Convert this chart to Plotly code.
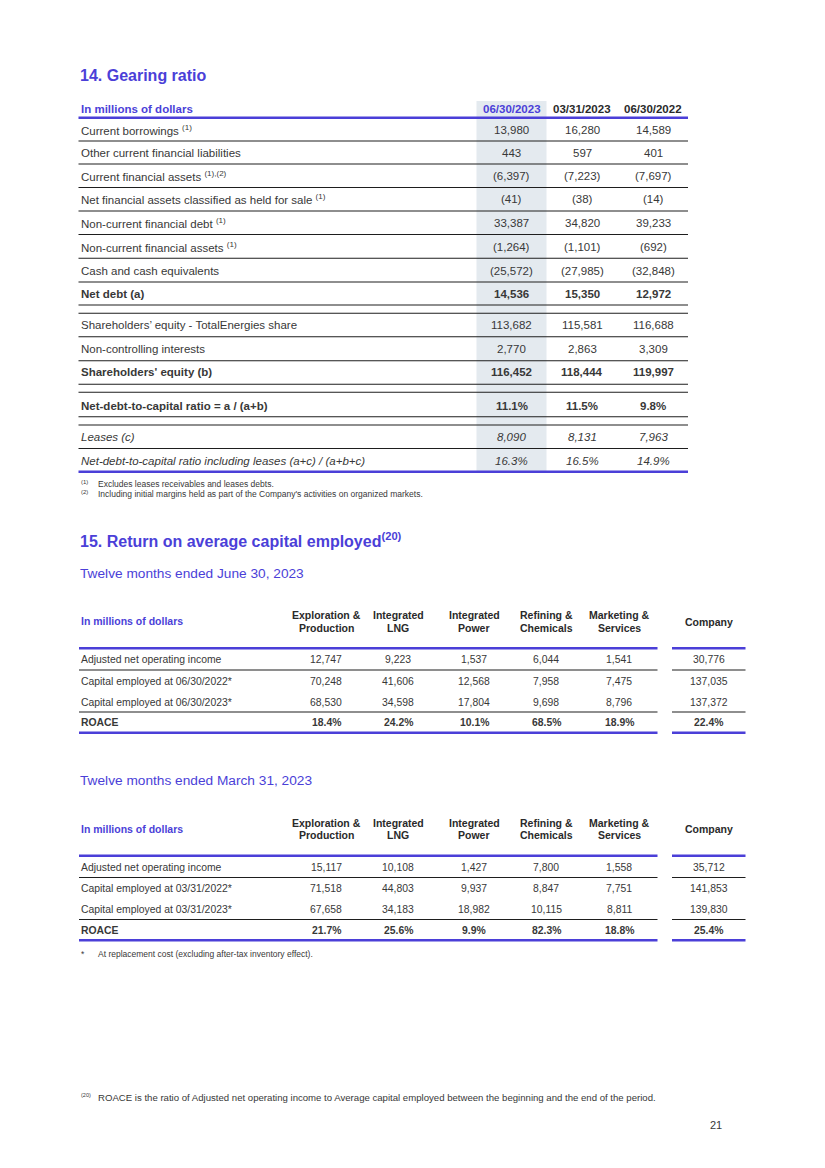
import plotly.graph_objects as go

PURPLE = "#4B3FD8"
TEXT = "#383838"
LINE = "#1E1E1E"
SHADE = "#E4EAEF"
FONT = "Liberation Sans, Arial, sans-serif"

# Données - 14. Gearing ratio
gearing_periods = ["06/30/2023", "03/31/2023", "06/30/2022"]
gearing_labels = [
    "Current borrowings <sup>(1)</sup>",
    "Other current financial liabilities",
    "Current financial assets <sup>(1),(2)</sup>",
    "Net financial assets classified as held for sale <sup>(1)</sup>",
    "Non-current financial debt <sup>(1)</sup>",
    "Non-current financial assets <sup>(1)</sup>",
    "Cash and cash equivalents",
    "Net debt (a)",
    "Shareholders\u2019 equity - TotalEnergies share",
    "Non-controlling interests",
    "Shareholders' equity (b)",
    "Net-debt-to-capital ratio = a / (a+b)",
    "Leases (c)",
    "Net-debt-to-capital ratio including leases (a+c) / (a+b+c)",
]
gearing_jun23 = [13980, 443, -6397, -41, 33387, -1264, -25572, 14536, 113682, 2770, 116452, 11.1, 8090, 16.3]
gearing_mar23 = [16280, 597, -7223, -38, 34820, -1101, -27985, 15350, 115581, 2863, 118444, 11.5, 8131, 16.5]
gearing_jun22 = [14589, 401, -7697, -14, 39233, -692, -32848, 12972, 116688, 3309, 119997, 9.8, 7963, 14.9]
gearing_notes = [
    ("(1)", "Excludes leases receivables and leases debts."),
    ("(2)", "Including initial margins held as part of the Company's activities on organized markets."),
]

# Données - 15. ROACE
segments = ["Exploration &\nProduction", "Integrated\nLNG", "Integrated\nPower",
            "Refining &\nChemicals", "Marketing &\nServices", "Company"]
roace_rows_jun = ["Adjusted net operating income", "Capital employed at 06/30/2022*",
                  "Capital employed at 06/30/2023*", "ROACE"]
income_jun23 = [12747, 9223, 1537, 6044, 1541, 30776]
capital_jun22 = [70248, 41606, 12568, 7958, 7475, 137035]
capital_jun23 = [68530, 34598, 17804, 9698, 8796, 137372]
roace_jun23 = [18.4, 24.2, 10.1, 68.5, 18.9, 22.4]

roace_rows_mar = ["Adjusted net operating income", "Capital employed at 03/31/2022*",
                  "Capital employed at 03/31/2023*", "ROACE"]
income_mar23 = [15117, 10108, 1427, 7800, 1558, 35712]
capital_mar22 = [71518, 44803, 9937, 8847, 7751, 141853]
capital_mar23 = [67658, 34183, 18982, 10115, 8811, 139830]
roace_mar23 = [21.7, 25.6, 9.9, 82.3, 18.8, 25.4]

# Mise en page (coordonnées = pixels de la page)
G_ROW_Y = [129.5, 152.5, 175.8, 199.2, 223, 246.7, 270.5, 293.5, 325.2, 349, 372.3, 406, 437, 460.7]
G_LINES = [141, 164, 187.5, 211, 234.5, 258.3, 282, 305, 313.3, 336.8, 360.7, 384.3, 392.3, 416.7, 425, 448.5]
G_COL_X = [511.5, 582, 653]
G_BOLD = {7, 10, 11}
G_ITALIC = {12, 13}
G_PCT = {11, 13}
R_COL_X = [326, 398, 474, 546, 619, 708.5]
BODY_MARGIN = 8  # marge par défaut du <body> HTML

fig = go.Figure()
annotations = []
shapes = []


def fmt(v, pct=False):
    if pct:
        return f"{v:.1f}%"
    s = f"{abs(v):,}"
    return f"({s})" if v < 0 else s


def text(x, y, s, size=11.5, color=TEXT, anchor="left", bold=False, italic=False):
    if bold:
        s = f"<b>{s}</b>"
    if italic:
        s = f"<i>{s}</i>"
    annotations.append(dict(
        x=x, y=y, xref="x", yref="y", text=s, showarrow=False,
        xanchor=anchor, yanchor="middle", borderpad=0,
        font=dict(family=FONT, size=size, color=color),
    ))


def hline(y, x0, x1, color=LINE, width=1.1):
    shapes.append(dict(type="line", xref="x", yref="y", x0=x0, x1=x1, y0=y, y1=y,
                       line=dict(color=color, width=width)))


# 14. Gearing ratio
text(79, 75, "14. Gearing ratio", size=16, color=PURPLE, bold=True)
shapes.append(dict(type="rect", xref="x", yref="y", x0=476.5, x1=546.5, y0=101, y1=471.5,
                   fillcolor=SHADE, line=dict(width=0), layer="below"))
text(80, 109, "In millions of dollars", color=PURPLE, bold=True)
for j, p in enumerate(gearing_periods):
    text(G_COL_X[j], 109, p, color=PURPLE if j == 0 else "#2A2A2A", anchor="center", bold=True)
hline(117.8, 78.5, 688, color=PURPLE, width=2.6)

for i, lab in enumerate(gearing_labels):
    b, it, pct = i in G_BOLD, i in G_ITALIC, i in G_PCT
    text(80, G_ROW_Y[i], lab, bold=b, italic=it)
    for j, serie in enumerate([gearing_jun23, gearing_mar23, gearing_jun22]):
        text(G_COL_X[j], G_ROW_Y[i], fmt(serie[i], pct), anchor="center", bold=b, italic=it)
for y in G_LINES:
    hline(y, 78.5, 688)
hline(471.7, 78.5, 688, color=PURPLE, width=2.6)

for k, (mark, note) in enumerate(gearing_notes):
    text(80, 481.5 + 10 * k, mark, size=6)
    text(96.5, 484 + 10 * k, note, size=8.5)

# 15. ROACE
text(79, 540, "15. Return on average capital employed<sup>(20)</sup>", size=16, color=PURPLE, bold=True)


def roace_table(y0, subtitle, row_labels, series):
    text(79, y0, subtitle, size=13.7, color=PURPLE)
    text(80, y0 + 48, "In millions of dollars", size=10.5, color=PURPLE, bold=True)
    for j, seg in enumerate(segments):
        lines = seg.split("\n")
        if len(lines) == 1:
            text(R_COL_X[j], y0 + 48.5, lines[0], size=10.5, color="#2A2A2A", anchor="center", bold=True)
        else:
            for k, l in enumerate(lines):
                text(R_COL_X[j], y0 + 42 + 12.5 * k, l, size=10.5, color="#2A2A2A", anchor="center", bold=True)
    row_y = [y0 + 86.5, y0 + 108, y0 + 129, y0 + 149.5]
    for i, lab in enumerate(row_labels):
        b = i == len(row_labels) - 1
        text(80, row_y[i], lab, size=10.4, bold=b)
        for j in range(len(segments)):
            text(R_COL_X[j], row_y[i], fmt(series[i][j], pct=b), size=10.4, anchor="center", bold=b)
    for x0, x1 in [(79, 657.5), (672, 745.5)]:
        hline(y0 + 75.3, x0, x1, color=PURPLE, width=2.6)
        hline(y0 + 97, x0, x1)
        hline(y0 + 139, x0, x1)
        hline(y0 + 159.7, x0, x1, color=PURPLE, width=2.6)


roace_table(573, "Twelve months ended June 30, 2023", roace_rows_jun,
            [income_jun23, capital_jun22, capital_jun23, roace_jun23])
roace_table(780.5, "Twelve months ended March 31, 2023", roace_rows_mar,
            [income_mar23, capital_mar22, capital_mar23, roace_mar23])

text(80, 953.5, "*", size=8.5)
text(96.5, 953.5, "At replacement cost (excluding after-tax inventory effect).", size=8.5)

text(79.5, 1094.5, "(20)", size=5.5)
text(96.5, 1097, "ROACE is the ratio of Adjusted net operating income to Average capital employed "
                 "between the beginning and the end of the period.", size=9.6)
text(716, 1125, "21", size=11, anchor="center")

# la figure démarre à (8, 8) dans la page : on décale les axes d'autant
W, H = 825 - 2 * BODY_MARGIN, 1168 - 2 * BODY_MARGIN
fig.update_layout(
    width=W, height=H,
    margin=dict(l=0, r=0, t=0, b=0),
    paper_bgcolor="white", plot_bgcolor="white",
    xaxis=dict(range=[BODY_MARGIN, BODY_MARGIN + W], visible=False, fixedrange=True),
    yaxis=dict(range=[BODY_MARGIN + H, BODY_MARGIN], visible=False, fixedrange=True),
    annotations=annotations,
    shapes=shapes,
    showlegend=False,
)

fig.write_html("out.html", config={"displayModeBar": False})
